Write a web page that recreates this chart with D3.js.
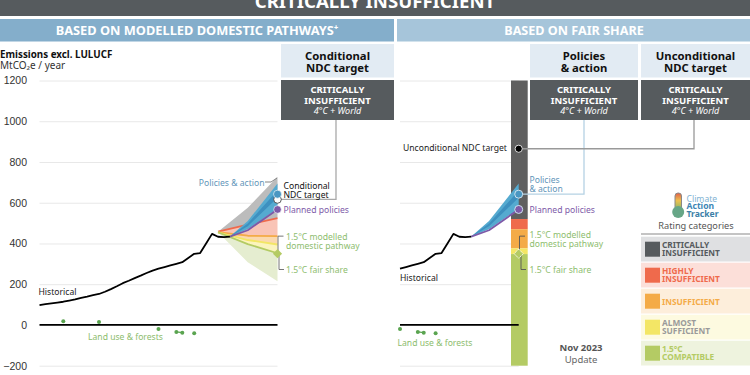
<!DOCTYPE html>
<html>
<head>
<meta charset="utf-8">
<script src="https://cdnjs.cloudflare.com/ajax/libs/d3/7.8.5/d3.min.js"></script>
<style>
	html, body { margin: 0; padding: 0; background: #fff; overflow: hidden; }
	svg { display: block; font-family: "Noto Sans", "Open Sans", sans-serif; }
	.grid line { stroke: #e8e8e8; stroke-width: 1; }
	.grid path { display: none; }
	.yAxis text { font-size: 10.5px; fill: #333; }
	.yAxis line, .yAxis path { display: none; }
	.xAxis text { font-size: 10.5px; fill: #bbb; }
	.xAxis line, .xAxis path { display: none; }
</style>
</head>
<body>
<script>
//chart values
var histYears = [1990,1991,1992,1993,1994,1995,1996,1997,1998,1999,2000,2001,2002,2003,2004,2005,2006,2007,2008,2009,2010,2011,2012,2013,2014,2015,2016,2017,2018,2019,2020,2021,2022];
var histValues = [97,102,106,110,114,120,126,133,139,146,152,163,176,190,205,217,230,242,255,267,276,284,292,300,308,329,349,353,400,447,433,431,434];
var landYears = [1994,2000,2010,2013,2014,2016];
var landValues = [18,14,-20,-34,-38,-41];

var yTicks = [-200,0,200,400,600,800,1000,1200];
var xTicksLeft = [1990,2000,2010,2020,2030];
var xTicksRight = [2010,2020,2030];

//modelled domestic pathway boundaries
var fanYears = [2020,2025,2030];
var criticalTop = [458,575,727];
var highlyTop = [458,492,525];
var insufficientTop = [455,438,436];
var almostTop = [455,417,395];
var compatibleTop = [455,397,352];
var compatibleBottom = [455,308,215];

//policies & action fan
var policyYears = [2022,2025,2030];
var policyTop = [434,510,695];
var policyMidTop = [434,498,660];
var policyMidBottom = [434,485,625];
var policyBottom = [434,470,570];
var plannedValues = [434,465,567];

var ratingBreaks = [1200,520,470,376,348,-200];
var ratingColors = ["#5f5f5f","#ef6a4c","#f4ab47","#f3e665","#b4cb64"];

var policyDot = 642, plannedDot = 567, conditionalDot = 616, unconditionalDot = 865, fairDot = 350;

var legendNames = [["CRITICALLY","INSUFFICIENT"],["HIGHLY","INSUFFICIENT"],["INSUFFICIENT"],["ALMOST","SUFFICIENT"],["1.5°C","COMPATIBLE"]];
var legendSwatch = ["#565b5e","#ef6a4c","#f4ab47","#f3e665","#b4cb64"];
var legendBack = ["#dfe0e2","#fcdfd9","#fdeedb","#fdfae0","#eef3de"];
var legendText = ["#565b5e","#ef6a4c","#f4ab47","#9a9a9a","#b4cb64"];

var svg = d3.select("body").append("svg")
	.attr("width", 750)
	.attr("height", 375);

var y = d3.scaleLinear().domain([-200,1200]).range([365.7,80.5]);
var xLeft = d3.scaleLinear().domain([1990,2030]).range([39.5,277.5]);
var xRight = d3.scaleLinear().domain([2010,2030]).range([400,518.7]);

function addText(x, yPos, str, size, color, weight, anchor, style){
	return svg.append("text")
		.attr("x", x)
		.attr("y", yPos)
		.attr("text-anchor", anchor || "start")
		.style("font-size", size + "px")
		.style("fill", color)
		.style("font-weight", weight || "normal")
		.style("font-style", style || "normal")
		.text(str);
}

function addRect(x, yPos, w, h, color){
	svg.append("rect").attr("x", x).attr("y", yPos).attr("width", w).attr("height", h).attr("fill", color);
}

function addLine(points, color, width){
	svg.append("path")
		.attr("d", d3.line()(points))
		.attr("fill", "none")
		.attr("stroke", color)
		.attr("stroke-width", width);
}

//header blocks
addRect(0, 0, 750, 16, "#565b5e");
addText(375, 7.5, "CRITICALLY INSUFFICIENT", 18.6, "#fff", "bold", "middle");
addRect(0, 19, 394, 22.5, "#84aecb");
addRect(397, 19, 353, 22.5, "#a6c5da");
addText(197, 35, "BASED ON MODELLED DOMESTIC PATHWAYS⁺", 12.8, "#fff", "bold", "middle");
addText(574, 35, "BASED ON FAIR SHARE", 12.6, "#fff", "bold", "middle");

var columns = [
	{x:281, w:113, a:"Conditional", b:"NDC target"},
	{x:530, w:108, a:"Policies", b:"& action"},
	{x:641, w:109, a:"Unconditional", b:"NDC target"}
];
columns.forEach(function(c){
	var mid = c.x + c.w / 2;
	addRect(c.x, 44, c.w, 33.5, "#e2ebf3");
	addText(mid, 60, c.a, 11.3, "#111", "bold", "middle");
	addText(mid, 72, c.b, 11.3, "#111", "bold", "middle");
	addRect(c.x, 80, c.w, 40, "#565b5e");
	addText(mid, 93, "CRITICALLY", 9.5, "#fff", "bold", "middle");
	addText(mid, 103.5, "INSUFFICIENT", 9.5, "#fff", "bold", "middle");
	addText(mid, 114, "4°C + World", 9, "#fff", "normal", "middle", "italic");
});

//axis title
addText(0, 58, "Emissions excl. LULUCF", 9.8, "#111", "bold");
addText(0, 69, "MtCO₂e / year", 10, "#333");

//grids and axes
svg.append("g").attr("class", "grid")
	.attr("transform", "translate(39.5,0)")
	.call(d3.axisRight(y).tickValues(yTicks).tickSize(238).tickFormat(""));
svg.append("g").attr("class", "grid")
	.attr("transform", "translate(400,0)")
	.call(d3.axisRight(y).tickValues(yTicks).tickSize(118.7).tickFormat(""));
svg.append("g").attr("class", "yAxis")
	.attr("transform", "translate(30,0)")
	.call(d3.axisLeft(y).tickValues(yTicks).tickSize(0).tickFormat(d3.format("d")));
svg.append("g").attr("class", "xAxis")
	.attr("transform", "translate(0,372.5)")
	.call(d3.axisBottom(xLeft).tickValues(xTicksLeft).tickSize(0).tickFormat(d3.format("d")));
svg.append("g").attr("class", "xAxis")
	.attr("transform", "translate(0,372.5)")
	.call(d3.axisBottom(xRight).tickValues(xTicksRight).tickSize(0).tickFormat(d3.format("d")));

//rating bar in the fair share panel
ratingColors.forEach(function(col, i){
	svg.append("rect")
		.attr("x", 511)
		.attr("width", 16.7)
		.attr("y", y(ratingBreaks[i]))
		.attr("height", y(ratingBreaks[i+1]) - y(ratingBreaks[i]))
		.attr("fill", col);
});

//band between two boundaries
function band(xs, scale, top, bottom, color){
	var area = d3.area()
		.x(function(d){ return scale(d); })
		.y0(function(d, i){ return y(bottom[i]); })
		.y1(function(d, i){ return y(top[i]); });
	svg.append("path")
		.attr("d", area(xs))
		.attr("fill", color);
}

function series(xs, scale, vals, color, width){
	var line = d3.line()
		.x(function(d){ return scale(d); })
		.y(function(d, i){ return y(vals[i]); });
	svg.append("path")
		.attr("d", line(xs))
		.attr("fill", "none")
		.attr("stroke", color)
		.attr("stroke-width", width)
		.attr("stroke-linejoin", "round");
}

//left panel rating fan
band(fanYears, xLeft, criticalTop, highlyTop, "#bcbcbc");
band(fanYears, xLeft, highlyTop, insufficientTop, "#f9c4b6");
band(fanYears, xLeft, insufficientTop, almostTop, "#fbd9ae");
band(fanYears, xLeft, almostTop, compatibleTop, "#fbf4bd");
band(fanYears, xLeft, compatibleTop, compatibleBottom, "#e5edd0");
series(fanYears, xLeft, highlyTop, "#ef6a4c", 1.8);
series(fanYears, xLeft, insufficientTop, "#f4ab47", 1.8);
series(fanYears, xLeft, almostTop, "#f3e665", 1.8);
series(fanYears, xLeft, compatibleTop, "#b4cb64", 1.8);

//policies & action fans in both panels
[xLeft, xRight].forEach(function(scale){
	band(policyYears, scale, policyTop, policyBottom, "#55aad0");
	band(policyYears, scale, policyMidTop, policyMidBottom, "#3e90bf");
	series(policyYears, scale, plannedValues, "#7d5aa8", 1.8);
});

//zero lines
addLine([[xLeft(1990), y(0)], [xLeft(2030), y(0)]], "#000", 1.8);
addLine([[xRight(2010), y(0)], [xRight(2030), y(0)]], "#000", 1.8);

//historical lines
series(histYears, xLeft, histValues, "#000", 1.8);
var rightYears = histYears.filter(function(d){ return d >= 2010; });
var rightValues = histValues.filter(function(d, i){ return histYears[i] >= 2010; });
series(rightYears, xRight, rightValues, "#000", 1.8);

//land use dots, consecutive years are joined
function landDots(scale, first){
	landYears.forEach(function(yr, i){
		if (yr < first) return;
		svg.append("circle").attr("cx", scale(yr)).attr("cy", y(landValues[i])).attr("r", 2).attr("fill", "#5aa450");
		if (landYears[i+1] == yr + 1){
			addLine([[scale(yr), y(landValues[i])], [scale(yr+1), y(landValues[i+1])]], "#5aa450", 1.2);
		}
	});
}
landDots(xLeft, 1990);
landDots(xRight, 2010);

//connectors
addLine([[336, 120], [336, y(616)], [279, y(616)]], "#a9a9a9", 1.3);
addLine([[584, 120], [584, y(policyDot)], [519, y(policyDot)]], "#b5d2e4", 1.3);
addLine([[694, 120], [694, y(unconditionalDot)], [519, y(unconditionalDot)]], "#999", 1.3);
addLine([[265, 182], [271, 182], [277, 178]], "#777", 0.9);
addLine([[283.5, y(436)], [278, y(436)], [278, y(fairDot)]], "#666", 0.9);
addLine([[279, y(fairDot)], [279, 269.5], [284, 269.5]], "#666", 0.9);
addLine([[525, y(436)], [519.5, y(436)], [519.5, y(fairDot)]], "#555", 0.9);
addLine([[521, y(fairDot)], [521, 269.5], [526, 269.5]], "#555", 0.9);

function dot(x, val, r, fill, stroke, sw){
	svg.append("circle").attr("cx", x).attr("cy", y(val)).attr("r", r)
		.attr("fill", fill).attr("stroke", stroke).attr("stroke-width", sw);
}
function diamond(x, val, dash){
	svg.append("path")
		.attr("d", d3.symbol(d3.symbolSquare, 42)())
		.attr("transform", "translate(" + x + "," + y(val) + ") rotate(45)")
		.attr("fill", "#b4cb64")
		.attr("stroke", dash ? "#fff" : "none")
		.attr("stroke-width", 0.9)
		.attr("stroke-dasharray", dash ? "2,1" : null);
}

//left panel markers
dot(xLeft(2030), conditionalDot, 3.8, "#fff", "#333", 0.8);
dot(xLeft(2030), policyDot, 4, "#4a97c2", "#fff", 0.6);
dot(xLeft(2030), plannedDot, 3.8, "#7d5aa8", "#fff", 0.6);
diamond(xLeft(2030), fairDot, false);

//right panel markers
dot(xRight(2030), unconditionalDot, 3.6, "#000", "#ddd", 1);
dot(xRight(2030), policyDot, 4, "#4a97c2", "#cfe3ef", 1);
dot(xRight(2030), plannedDot, 4, "#7d5aa8", "#cfe3ef", 1);
diamond(xRight(2030), fairDot, true);

//chart labels
var blue = "#5f95b9", purple = "#7d5aa8", green = "#8dbd6e";
addText(264.5, 186, "Policies & action", 8.6, blue, "normal", "end");
addText(283.5, 188.5, "Conditional", 8.6, "#111");
addText(283.5, 197.5, "NDC target", 8.6, "#111");
addText(283.5, 213, "Planned policies", 8.6, purple);
addText(286, 240, "1.5°C modelled", 8.6, green);
addText(286, 249, "domestic pathway", 8.6, green);
addText(286, 273, "1.5°C fair share", 8.6, green);
addText(38.5, 294.5, "Historical", 8.6, "#222");
addText(88, 340, "Land use & forests", 8.6, green);

addText(403, 151, "Unconditional NDC target", 8.6, "#222");
addText(529.5, 183, "Policies", 8.6, blue);
addText(529.5, 192, "& action", 8.6, blue);
addText(529.5, 213, "Planned policies", 8.6, purple);
addText(529.5, 238, "1.5°C modelled", 8.6, green);
addText(529.5, 247, "domestic pathway", 8.6, green);
addText(529.5, 273, "1.5°C fair share", 8.6, green);
addText(400, 280.5, "Historical", 8.6, "#222");
addText(397.5, 346, "Land use & forests", 8.6, green);

addText(581, 351, "Nov 2023", 9.5, "#555", "bold", "middle");
addText(581, 362.5, "Update", 9.5, "#666", "normal", "middle");

//logo
var therm = svg.append("defs").append("linearGradient")
	.attr("id", "therm").attr("x1", 0).attr("y1", 0).attr("x2", 0).attr("y2", 1);
[["0%","#e0604a"],["45%","#eec24f"],["100%","#7fb56a"]].forEach(function(s){
	therm.append("stop").attr("offset", s[0]).attr("stop-color", s[1]);
});
svg.append("rect").attr("x", 675).attr("y", 193).attr("width", 6.5).attr("height", 17).attr("rx", 3).attr("fill", "url(#therm)").attr("stroke", "#888").attr("stroke-width", 1);
svg.append("circle").attr("cx", 678.2).attr("cy", 212).attr("r", 6).attr("fill", "#67a687");
addText(686.5, 201.5, "Climate", 8.6, "#7fb3d3");
addText(686.5, 209, "Action", 8.6, "#3d85b5", "bold");
addText(686.5, 216.5, "Tracker", 8.6, "#3d7fa8", "bold");

//legend
addText(696, 229, "Rating categories", 9.2, "#555", "normal", "middle");
addLine([[641, 234], [750, 234]], "#8a8a8a", 1.2);
legendNames.forEach(function(lines, i){
	var top = 236.7 + i * 26;
	addRect(641, top, 109, 24.8, legendBack[i]);
	addRect(645, top + 5, 15, 15, legendSwatch[i]);
	if (lines.length == 2){
		addText(662, top + 11.5, lines[0], 8.3, legendText[i], "bold");
		addText(662, top + 19, lines[1], 8.3, legendText[i], "bold");
	} else {
		addText(662, top + 16, lines[0], 8.3, legendText[i], "bold");
	}
});
</script>
</body>
</html>
